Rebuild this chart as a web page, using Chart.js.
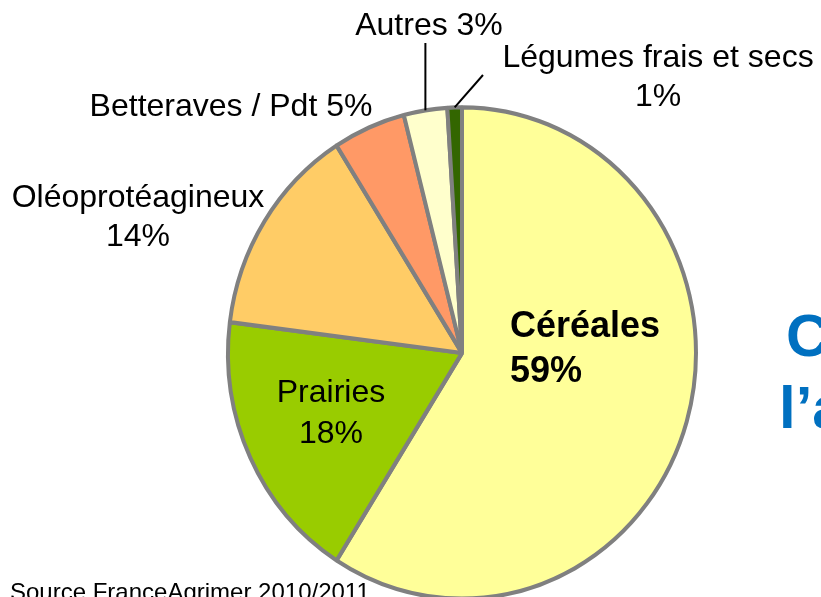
<!DOCTYPE html>
<html>
<head>
<meta charset="utf-8">
<script src="https://cdn.jsdelivr.net/npm/chart.js@4"></script>
<style>
  html, body { margin: 0; padding: 0; background: #fff; overflow: hidden; }
</style>
</head>
<body>
<canvas id="pie" width="821" height="597"></canvas>
<script>
var categories = ['Céréales', 'Prairies', 'Oléoprotéagineux', 'Betteraves / Pdt', 'Autres', 'Légumes frais et secs'];
var shares = [59, 18, 14, 5, 3, 1];
var sliceColors = ['#FFFF99', '#99CC00', '#FFCC66', '#FF9966', '#FFFFCC', '#336600'];
var sourceNote = 'Source FranceAgrimer 2010/2011';
var titleBits = ['C', 'l\u2019a'];

var FONT = '"Liberation Sans", Arial, sans-serif';
var stretchY = 1.05; // the pie in the slide is a bit taller than wide

// where each label sits: x, baseline of first line, gap to 2nd line (0 = one line)
var labelPos = [
    {x: 510, y: 337, gap: 45, align: 'left', bold: true},
    {x: 331, y: 402, gap: 41, align: 'center'},
    {x: 138, y: 207, gap: 39, align: 'center'},
    {x: 231, y: 116, gap: 0, align: 'center'},
    {x: 429, y: 35, gap: 0, align: 'center', lead: {y: 43}},
    {x: 658, y: 67, gap: 39, align: 'center', lead: {x: 483, y: 75}}
];

function arcTip(chart, i) {
    var a = chart.getDatasetMeta(0).data[i];
    var mid = (a.startAngle + a.endAngle) / 2;
    return {
        x: a.x + Math.cos(mid) * a.outerRadius,
        y: a.y + Math.sin(mid) * a.outerRadius * stretchY
    };
}

var stretchPlugin = {
    id: 'stretch',
    beforeDatasetsDraw: function (chart) {
        var a = chart.getDatasetMeta(0).data[0];
        var ctx = chart.ctx;
        ctx.save();
        ctx.translate(a.x, a.y);
        ctx.scale(1, stretchY);
        ctx.translate(-a.x, -a.y);
    },
    afterDatasetsDraw: function (chart) {
        chart.ctx.restore();
    }
};

var labelPlugin = {
    id: 'sliceLabels',
    afterDraw: function (chart) {
        var ctx = chart.ctx;
        ctx.save();
        ctx.textBaseline = 'alphabetic';
        for (var i = 0; i < categories.length; i++) {
            var p = labelPos[i];
            var pct = shares[i] + '%';
            if (p.lead) {
                var tip = arcTip(chart, i);
                ctx.strokeStyle = '#000';
                ctx.lineWidth = 2;
                ctx.beginPath();
                ctx.moveTo(tip.x, tip.y);
                ctx.lineTo(p.lead.x === undefined ? tip.x : p.lead.x, p.lead.y);
                ctx.stroke();
            }
            ctx.fillStyle = '#000';
            ctx.textAlign = p.align;
            ctx.font = (p.bold ? 'bold 36px ' : '32px ') + FONT;
            if (p.gap) {
                ctx.fillText(categories[i], p.x, p.y);
                ctx.fillText(pct, p.x, p.y + p.gap);
            } else {
                ctx.fillText(categories[i] + ' ' + pct, p.x, p.y);
            }
        }
        // bits of the slide title that run off the right edge
        ctx.fillStyle = '#0070C0';
        ctx.textAlign = 'left';
        ctx.font = 'bold 60px ' + FONT;
        ctx.fillText(titleBits[0], 786, 356);
        ctx.fillText(titleBits[1], 779, 428);
        // source
        ctx.fillStyle = '#000';
        ctx.font = '24px ' + FONT;
        ctx.fillText(sourceNote, 10, 600);
        ctx.restore();
    }
};

var chart = new Chart(document.getElementById('pie'), {
    type: 'pie',
    data: {
        labels: categories,
        datasets: [{
            data: shares,
            backgroundColor: sliceColors,
            borderColor: '#808080',
            borderWidth: 4,
            clip: false
        }]
    },
    options: {
        responsive: false,
        animation: false,
        events: [],
        layout: {padding: {left: 226, right: 123, top: 117, bottom: 8}},
        plugins: {
            legend: {display: false},
            tooltip: {enabled: false}
        }
    },
    plugins: [stretchPlugin, labelPlugin]
});
</script>
</body>
</html>
